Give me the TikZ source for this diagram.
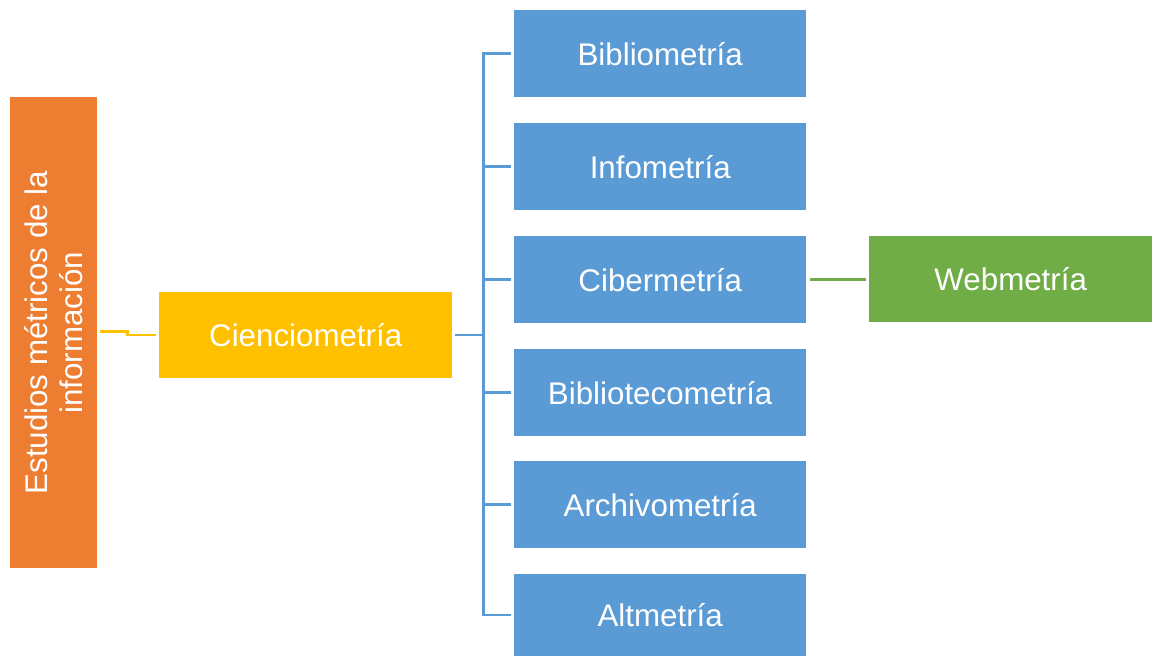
\documentclass[tikz,border=0pt]{standalone}
\usepackage{fontspec}
\setmainfont{Liberation Sans}
\definecolor{orng}{HTML}{ED7D31}
\definecolor{yel}{HTML}{FFC000}
\definecolor{blu}{HTML}{5B9BD5}
\definecolor{grn}{HTML}{70AD47}
\begin{document}
\begin{tikzpicture}[x=1pt,y=-1pt,
  box/.style={anchor=north west,inner sep=0pt,text=white,font=\fontsize{31.3}{35}\selectfont,align=center},
  bl/.style={box,fill=blu,minimum width=292pt,minimum height=87pt},
  conn/.style={line width=2.5pt}]
\useasboundingbox (0,0) rectangle (1152,656);
\node[box,fill=orng,minimum width=87pt,minimum height=471pt] (est) at (10,97) {};
\node[rotate=90,text=white,font=\fontsize{31.3}{35}\selectfont,align=center] (estt) at (est.center) {Estudios métricos de la\\información};
\node[box,fill=yel,minimum width=293pt,minimum height=86pt] (cien) at (159,292) {Cienciometría};
\node[bl] (b1) at (514,10) {Bibliometría};
\node[bl] (b2) at (514,123) {Infometría};
\node[bl] (b3) at (514,236) {Cibermetría};
\node[bl] (b4) at (514,349) {Bibliotecometría};
\node[bl] (b5) at (514,461) {Archivometría};
\node[bl,minimum height=82pt] (b6) at (514,574) {Altmetría};
\node[box,fill=grn,minimum width=283pt,minimum height=86pt] (web) at (869,236) {Webmetría};
\draw[yel,conn] ([xshift=3pt,yshift=1pt]est.east) -- ++(27,0) |- ([xshift=-3pt]cien.west);
\draw[blu,conn] ([xshift=3pt]cien.east) -- ++(28,0) coordinate (br);
\foreach \b in {b1,b2,b3,b4,b5,b6}{
  \draw[blu,conn] ([xshift=-3pt]\b.west) -| (br);
}
\draw[grn,conn] ([xshift=4pt]b3.east) -- ([xshift=-3pt]web.west |- b3.east);
\end{tikzpicture}
\end{document}
